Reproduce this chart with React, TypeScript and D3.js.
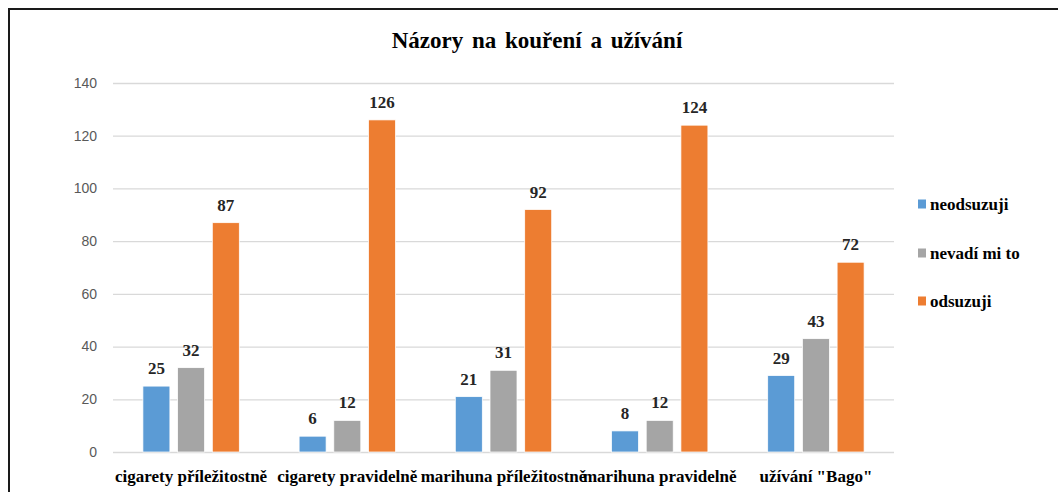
import { useEffect, useRef } from 'react';
import * as d3 from 'd3';

const categories = ['cigarety příležitostně', 'cigarety pravidelně', 'marihuna příležitostně', 'marihuna pravidelně', 'užívání "Bago"'];
const seriesNames = ['neodsuzuji', 'nevadí mi to', 'odsuzuji'];
const neodsuzuji = [25, 6, 21, 8, 29];
const nevadiMiTo = [32, 12, 31, 12, 43];
const odsuzuji = [87, 126, 92, 124, 72];
const yTicks = [0, 20, 40, 60, 80, 100, 120, 140];
const colors = ['#5B9BD5', '#A5A5A5', '#ED7D31'];

const W = 1058;
const H = 492;
const SERIF = '"Liberation Serif", "Times New Roman", serif';
const SANS = '"Liberation Sans", Arial, sans-serif';

export default function App() {
  const svgRef = useRef<SVGSVGElement>(null);

  useEffect(() => {
    const svg = d3.select(svgRef.current);
    svg.selectAll('*').remove();

    const values = [neodsuzuji, nevadiMiTo, odsuzuji];

    // frame (right/bottom run off the picture)
    svg.append('rect')
      .attr('x', 9).attr('y', 9)
      .attr('width', 1200).attr('height', 600)
      .attr('fill', '#fff')
      .attr('stroke', '#1a1a1a')
      .attr('stroke-width', 2);

    const x0 = d3.scaleBand<string>().domain(categories).range([113, 894]).padding(0);
    const inset = (x0.bandwidth() - 96.4) / 2;
    const x1 = d3.scaleBand<string>().domain(seriesNames)
      .range([inset, x0.bandwidth() - inset])
      .paddingInner(0.222).paddingOuter(0);
    const y = d3.scaleLinear().domain([0, 140]).range([452, 83]);

    // title
    svg.append('text')
      .attr('x', 537).attr('y', 48)
      .attr('text-anchor', 'middle')
      .attr('font-family', SERIF).attr('font-weight', 700).attr('font-size', 23)
      .attr('fill', '#000')
      .style('word-spacing', '3px')
      .text('Názory na kouření a užívání');

    // grid
    const grid = svg.append('g');
    yTicks.forEach(t => {
      grid.append('line')
        .attr('x1', 113).attr('x2', 894)
        .attr('y1', y(t) + 0.5).attr('y2', y(t) + 0.5)
        .attr('stroke', '#D9D9D9').attr('stroke-width', 1.3);
      grid.append('text')
        .attr('x', 97).attr('y', y(t))
        .attr('dy', '0.35em')
        .attr('text-anchor', 'end')
        .attr('font-family', SANS).attr('font-size', 14)
        .attr('fill', '#595959')
        .text(t);
    });

    // bars + labels
    const bars = svg.append('g');
    categories.forEach((c, ci) => {
      seriesNames.forEach((s, si) => {
        const v = values[si][ci];
        const bx = (x0(c) ?? 0) + (x1(s) ?? 0);
        bars.append('rect')
          .attr('x', bx).attr('y', y(v))
          .attr('width', x1.bandwidth()).attr('height', y(0) - y(v))
          .attr('fill', colors[si])
          .attr('stroke', '#fff').attr('stroke-width', 0.75);
        bars.append('text')
          .attr('x', bx + x1.bandwidth() / 2).attr('y', y(v) - 12)
          .attr('text-anchor', 'middle')
          .attr('font-family', SERIF).attr('font-weight', 700).attr('font-size', 17)
          .attr('fill', '#262626')
          .text(v);
      });
      svg.append('text')
        .attr('x', (x0(c) ?? 0) + x0.bandwidth() / 2).attr('y', 482)
        .attr('text-anchor', 'middle')
        .attr('font-family', SERIF).attr('font-weight', 700).attr('font-size', 17)
        .attr('fill', '#000')
        .text(c);
    });

    // legend
    const legY = [204, 253, 301];
    seriesNames.forEach((s, i) => {
      svg.append('rect')
        .attr('x', 918).attr('y', legY[i] - 4.5)
        .attr('width', 8).attr('height', 9)
        .attr('fill', colors[i]);
      svg.append('text')
        .attr('x', 930).attr('y', legY[i])
        .attr('dy', '0.35em')
        .attr('font-family', SERIF).attr('font-weight', 700).attr('font-size', 17)
        .attr('fill', '#000')
        .text(s);
    });
  }, []);

  return (
    <div style={{ position: 'fixed', left: 0, top: 0, width: W, height: H, background: '#fff' }}>
      <svg ref={svgRef} width={W} height={H} style={{ display: 'block' }} />
    </div>
  );
}
